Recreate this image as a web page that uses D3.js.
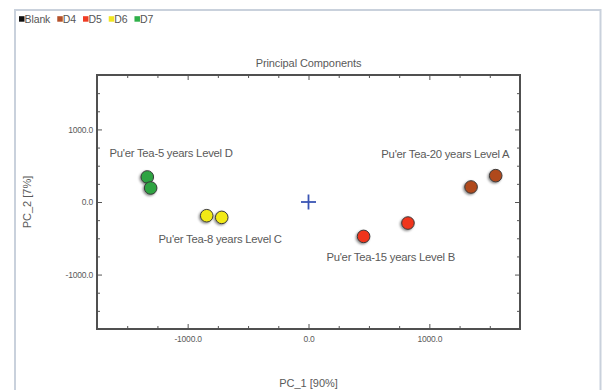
<!DOCTYPE html>
<html>
<head>
<meta charset="utf-8">
<script src="https://cdn.jsdelivr.net/npm/d3@7"></script>
<style>
  html, body { margin: 0; padding: 0; background: #fff; }
  svg { display: block; font-family: "Liberation Sans", Arial, sans-serif; }
</style>
</head>
<body>
<svg id="chart" width="605" height="390"></svg>
<script>
// Legend entries
const legendNames = ["Blank", "D4", "D5", "D6", "D7"];
const legendColors = ["#111111", "#b4512a", "#f03c24", "#f1e623", "#2fb04a"];

// PCA scores (PC_1, PC_2) per sample
const groups = ["D4", "D4", "D5", "D5", "D6", "D6", "D7", "D7"];
const pc1 = [1345, 1549, 456, 823, -842, -718, -1334, -1306];
const pc2 = [207, 363, -474, -290, -189, -212, 345, 193];
const pointColors = { D4: "#b04a1e", D5: "#f0341c", D6: "#f2ea14", D7: "#2ea443" };

// Group annotations (anchored in data space)
const groupLabels = ["Pu'er Tea-5 years Level D", "Pu'er Tea-8 years Level C",
                     "Pu'er Tea-15 years Level B", "Pu'er Tea-20 years Level A"];
const labelPc1 = [-1137, -731, 680, 1132];
const labelPc2 = [675, -505, -760, 655];

// Axis ticks
const majorTicks = [-1000, 0, 1000];
const minorTicks = [-1500, -1250, -750, -500, -250, 250, 500, 750, 1250, 1500];
const axisDomain = [-1750, 1750];

const svg = d3.select("#chart");
const frame = { left: 97, right: 520, top: 75, bottom: 329 };
const textColor = "#5a5a5a";

// outer panel border
svg.append("rect")
  .attr("x", 15).attr("y", 10).attr("width", 585.5).attr("height", 390)
  .attr("fill", "#fff").attr("stroke", "#c9d1dc").attr("stroke-width", 2);

// legend
let lx = 19;
const legend = svg.append("g");
legendNames.forEach((name, i) => {
  legend.append("rect").attr("x", lx).attr("y", 16.2).attr("width", 5.5).attr("height", 5.5)
    .attr("fill", legendColors[i]);
  const t = legend.append("text").attr("x", lx + 5.5).attr("y", 22.8)
    .attr("font-size", 10.5).attr("fill", "#555").attr("letter-spacing", -0.1).text(name);
  lx += 5.5 + t.node().getComputedTextLength() + 7;
});

const x = d3.scaleLinear().domain(axisDomain).range([frame.left, frame.right]);
const y = d3.scaleLinear().domain(axisDomain).range([frame.bottom, frame.top]);
const fmt = d => d.toFixed(1);

function styleAxis(g) {
  g.select(".domain").remove();
  g.selectAll(".tick line").attr("stroke", "#555").attr("stroke-width", 1);
  g.selectAll(".tick text").attr("fill", textColor).attr("font-size", 8.5)
    .attr("font-family", "Liberation Sans, Arial, sans-serif")
    .attr("letter-spacing", -0.2);
}

// bottom
svg.append("g").attr("transform", `translate(0,${frame.bottom})`)
  .call(d3.axisBottom(x).tickValues(majorTicks).tickSize(-5).tickPadding(7).tickFormat(fmt))
  .call(styleAxis);
svg.append("g").attr("transform", `translate(0,${frame.bottom})`)
  .call(d3.axisBottom(x).tickValues(minorTicks).tickSize(-3).tickFormat(""))
  .call(styleAxis);
// top
svg.append("g").attr("transform", `translate(0,${frame.top})`)
  .call(d3.axisTop(x).tickValues(majorTicks).tickSize(-5).tickFormat(""))
  .call(styleAxis);
svg.append("g").attr("transform", `translate(0,${frame.top})`)
  .call(d3.axisTop(x).tickValues(minorTicks).tickSize(-3).tickFormat(""))
  .call(styleAxis);
// left
svg.append("g").attr("transform", `translate(${frame.left},0)`)
  .call(d3.axisLeft(y).tickValues(majorTicks).tickSize(-5).tickPadding(4).tickFormat(fmt))
  .call(styleAxis);
svg.append("g").attr("transform", `translate(${frame.left},0)`)
  .call(d3.axisLeft(y).tickValues(minorTicks).tickSize(-3).tickFormat(""))
  .call(styleAxis);
// right
svg.append("g").attr("transform", `translate(${frame.right},0)`)
  .call(d3.axisRight(y).tickValues(majorTicks).tickSize(-5).tickFormat(""))
  .call(styleAxis);
svg.append("g").attr("transform", `translate(${frame.right},0)`)
  .call(d3.axisRight(y).tickValues(minorTicks).tickSize(-3).tickFormat(""))
  .call(styleAxis);

// plot frame
svg.append("rect")
  .attr("x", frame.left).attr("y", frame.top)
  .attr("width", frame.right - frame.left).attr("height", frame.bottom - frame.top)
  .attr("fill", "none").attr("stroke", "#505050").attr("stroke-width", 2);

// title and axis titles
svg.append("text").attr("x", (frame.left + frame.right) / 2).attr("y", 67)
  .attr("text-anchor", "middle").attr("font-size", 11).attr("fill", textColor)
  .attr("letter-spacing", -0.1)
  .text("Principal Components");
svg.append("text").attr("x", (frame.left + frame.right) / 2).attr("y", 387)
  .attr("text-anchor", "middle").attr("font-size", 11).attr("fill", textColor)
  .text("PC_1 [90%]");
svg.append("text").attr("transform", `translate(31,${(frame.top + frame.bottom) / 2}) rotate(-90)`)
  .attr("text-anchor", "middle").attr("font-size", 11).attr("fill", textColor)
  .text("PC_2 [7%]");

// origin marker
const cx = x(0), cy = y(0);
svg.append("g").attr("stroke", "#3a55b4").attr("stroke-width", 1.8)
  .call(g => {
    g.append("line").attr("x1", cx - 7.5).attr("x2", cx + 7.5).attr("y1", cy).attr("y2", cy);
    g.append("line").attr("x1", cx).attr("x2", cx).attr("y1", cy - 7.5).attr("y2", cy + 7.5);
  });

// drop shadow for score points
const defs = svg.append("defs");
const f = defs.append("filter").attr("id", "shadow").attr("x", "-50%").attr("y", "-50%")
  .attr("width", "200%").attr("height", "200%");
f.append("feDropShadow").attr("dx", -1.2).attr("dy", 1.2).attr("stdDeviation", 0.9)
  .attr("flood-color", "#000").attr("flood-opacity", 0.45);

// group labels
svg.append("g").selectAll("text").data(groupLabels).join("text")
  .attr("x", (d, i) => x(labelPc1[i])).attr("y", (d, i) => y(labelPc2[i]) + 4)
  .attr("text-anchor", "middle").attr("font-size", 11.3).attr("fill", textColor)
  .attr("letter-spacing", -0.25)
  .text(d => d);

// score points
svg.append("g").selectAll("circle").data(groups).join("circle")
  .attr("cx", (d, i) => x(pc1[i])).attr("cy", (d, i) => y(pc2[i]))
  .attr("r", 6.3)
  .attr("fill", d => pointColors[d])
  .attr("stroke", "#3a3a3a").attr("stroke-width", 1)
  .attr("filter", "url(#shadow)");
</script>
</body>
</html>
